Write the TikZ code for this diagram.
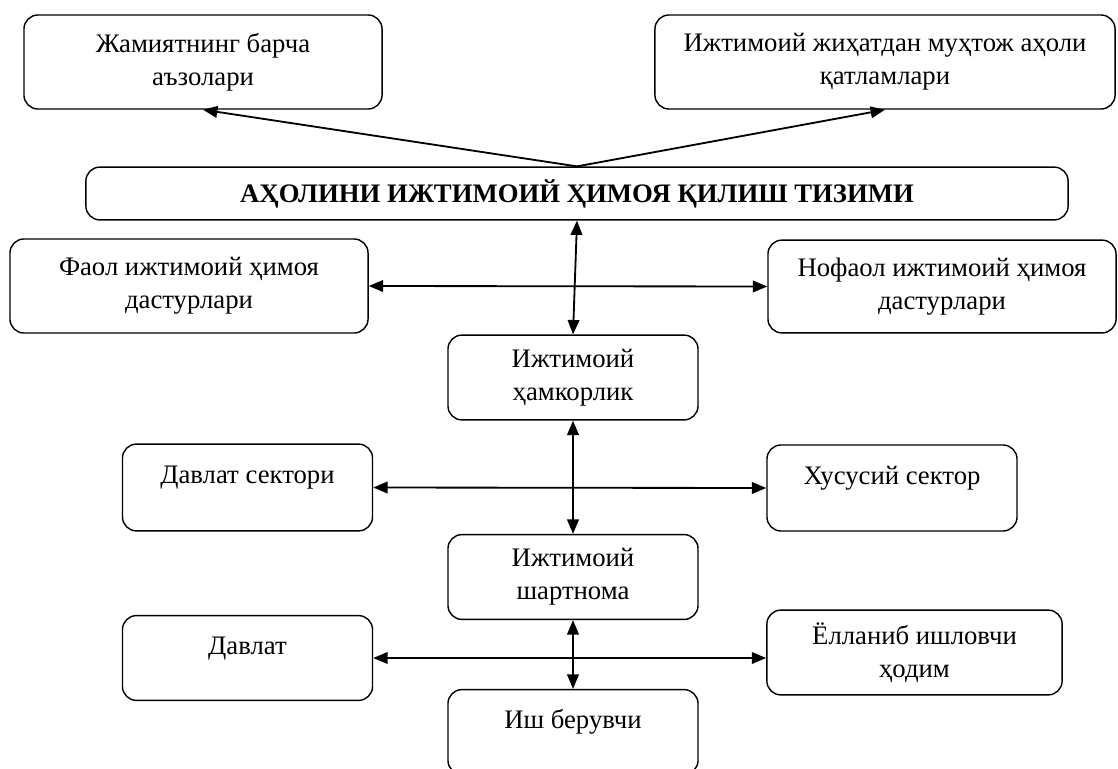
\documentclass[tikz,border=0pt]{standalone}
\usepackage{fontspec}
\setmainfont{Liberation Serif}
\usetikzlibrary{arrows.meta}

\tikzset{
  box/.style={draw, line width=1pt, rounded corners=.35cm, align=center, inner sep=0pt,
    font=\fontsize{19}{23.5}\selectfont},
  bigbox/.style={box, minimum width=8.95cm, minimum height=2.35cm},
  midbox/.style={box, minimum width=6.25cm, minimum height=2.12cm},
  upper/.style={text height=.5cm, text depth=.7cm},
  link/.style={line width=1.3pt}
}

\begin{document}
\begin{tikzpicture}[line cap=round,line join=round,>={Triangle[length=3.6mm,width=2.9mm]},x=0.025cm,y=-0.025cm]
        \useasboundingbox (0,0) rectangle (1118,769);
        % top level
        \node [bigbox] (all) at (203,62) {Жамиятнинг барча\\аъзолари};
        \node [bigbox, minimum width=11.5cm] (needy) at (885,62) {Ижтимоий жиҳатдан муҳтож аҳоли\\қатламлари};
        \node [box, minimum width=24.55cm, minimum height=1.32cm, font=\fontsize{19}{23.5}\selectfont\bfseries] (main) at (577,193.5) {АҲОЛИНИ ИЖТИМОИЙ ҲИМОЯ ҚИЛИШ ТИЗИМИ};
        % programmes
        \node [bigbox] (active) at (189,286) {Фаол ижтимоий ҳимоя\\дастурлари};
        \node [bigbox, minimum width=8.7cm, minimum height=2.32cm] (passive) at (942,286.5) {Нофаол ижтимоий ҳимоя\\дастурлари};
        \node [midbox] (partner) at (573,377.5) {Ижтимоий\\ҳамкорлик};
        % sectors
        \node [midbox, upper, minimum height=2.17cm] (public) at (247.5,487.5) {Давлат сектори};
        \node [midbox, upper, minimum height=2.15cm] (private) at (892,488) {Хусусий сектор};
        \node [midbox] (contract) at (573,577) {Ижтимоий\\шартнома};
        % parties
        \node [midbox, upper] (state) at (247.5,658) {Давлат};
        \node [midbox, minimum width=7.38cm] (hired) at (914.5,652.5) {Ёлланиб ишловчи\\ҳодим};
        \node [midbox, upper] (employer) at (573,732) {Иш берувчи};
        % connectors
        \draw [link,->] (main.north) -- (all.south);
        \draw [link,->] (main.north) -- (needy.south);
        \draw [link,<->] (main.south) -- (partner.north);
        \draw [link,<->] (active.east) -- (passive.west);
        \draw [link,<->] (partner.south) -- (contract.north);
        \draw [link,<->] (public.east) -- (private.west);
        \draw [link,<->] (contract.south) -- (employer.north);
        \draw [link,<->] (state.east) -- (state.east -| hired.west);
    \end{tikzpicture}
\end{document}
